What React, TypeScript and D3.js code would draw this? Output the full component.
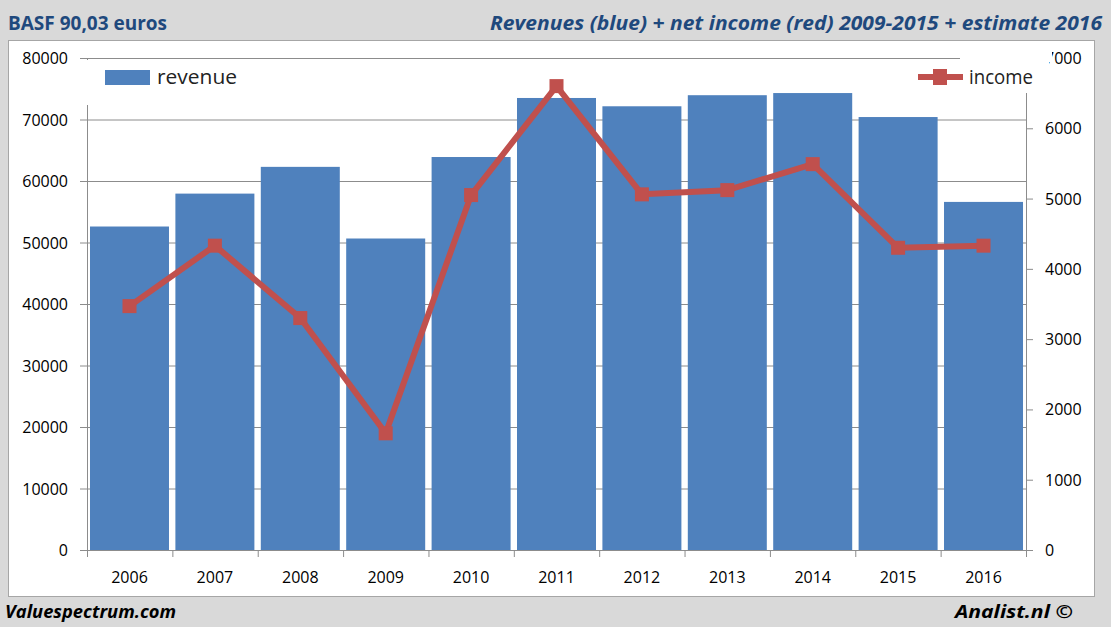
import React from "react";
import * as d3 from "d3";

const years = ["2006","2007","2008","2009","2010","2011","2012","2013","2014","2015","2016"];
const revenue = [52600, 57950, 62300, 50650, 63900, 73500, 72150, 73950, 74300, 70400, 56600];
const income = [3470, 4330, 3300, 1660, 5050, 6600, 5060, 5120, 5490, 4300, 4330];
const leftTicks = [0,10000,20000,30000,40000,50000,60000,70000,80000];
const rightTicks = [0,1000,2000,3000,4000,5000,6000,7000];

const W = 1111, H = 627;
const L = 87, R = 1026, T = 58, B = 550;
const font = "'Open Sans', 'Liberation Sans', sans-serif";

export default function App() {
  const x = d3.scaleBand().domain(years).range([L, R]).paddingInner(0.075).paddingOuter(0.035);
  const yL = d3.scaleLinear().domain([0, 80000]).range([B, T]);
  const yR = d3.scaleLinear().domain([0, 7000]).range([B, T]);
  const cx = (d: string) => (x(d) as number) + x.bandwidth() / 2;
  const line = d3.line<number>().x((_, i) => cx(years[i])).y(v => yR(v));
  const step = (R - L) / years.length;

  return (
    <svg width={W} height={H} style={{ position: "absolute", left: 0, top: 0 }}>
      <rect x={0} y={0} width={W} height={H} fill="#d9d9d9" />
      <rect x={8.5} y={40.5} width={1086} height={556} fill="#fff" stroke="#a6a6a6" />
      <text x={8} y={30} fontFamily={font} fontWeight="bold" fontSize={19} fill="#1f497d">BASF 90,03 euros</text>
      <text x={1102} y={30} textAnchor="end" fontFamily={font} fontWeight="bold" fontStyle="italic" fontSize={19.5} fill="#1f497d" textLength={612} lengthAdjust="spacingAndGlyphs">Revenues (blue) + net income (red) 2009-2015 + estimate 2016</text>

      {leftTicks.map(t => (
        <g key={"g" + t}>
          <line x1={L - 7} x2={R} y1={yL(t) + 0.5} y2={yL(t) + 0.5} stroke="#8c8c8c" />
          <text x={68} y={yL(t) + 6} textAnchor="end" fontFamily={font} fontSize={16} fill="#000">{t}</text>
        </g>
      ))}
      {rightTicks.map(t => (
        <g key={"r" + t}>
          <line x1={R} x2={R + 7} y1={yR(t) + 0.5} y2={yR(t) + 0.5} stroke="#8c8c8c" />
          <text x={1045} y={yR(t) + 6} fontFamily={font} fontSize={16} fill="#000">{t}</text>
        </g>
      ))}

      {years.map((yr, i) => (
        <rect key={yr} x={x(yr)} y={yL(revenue[i])} width={x.bandwidth()} height={B - yL(revenue[i])} fill="#4f81bd" />
      ))}

      <line x1={L + 0.5} x2={L + 0.5} y1={T} y2={B} stroke="#8c8c8c" />
      <line x1={R + 0.5} x2={R + 0.5} y1={T} y2={B} stroke="#8c8c8c" />
      <line x1={L} x2={R} y1={B + 0.5} y2={B + 0.5} stroke="#8c8c8c" />
      {d3.range(years.length + 1).map(i => (
        <line key={"xt" + i} x1={L + i * step + 0.5} x2={L + i * step + 0.5} y1={B} y2={B + 7} stroke="#8c8c8c" />
      ))}
      {years.map(yr => (
        <text key={"xl" + yr} x={cx(yr)} y={583} textAnchor="middle" fontFamily={font} fontSize={16} fill="#000">{yr}</text>
      ))}

      <path d={line(income) as string} fill="none" stroke="#c0504d" strokeWidth={6} strokeLinejoin="round" />
      {income.map((v, i) => (
        <rect key={"m" + i} x={cx(years[i]) - 7} y={yR(v) - 7} width={14} height={14} fill="#c0504d" />
      ))}

      <rect x={86} y={60} width={167} height={45} fill="#fff" />
      <rect x={105} y={70} width={45} height={15} fill="#4f81bd" />
      <text x={157} y={84} fontFamily={font} fontSize={20} fill="#222" textLength={80} lengthAdjust="spacingAndGlyphs">revenue</text>

      <rect x={905} y={60} width={144} height={33} fill="#fff" />
      <rect x={960} y={50} width={92} height={12} fill="#fff" />
      <line x1={918} x2={963} y1={77} y2={77} stroke="#c0504d" strokeWidth={6} />
      <rect x={933} y={69} width={14} height={16} fill="#c0504d" />
      <text x={969} y={84} fontFamily={font} fontSize={20} fill="#222" textLength={64} lengthAdjust="spacingAndGlyphs">income</text>

      <text x={5} y={618} fontFamily={font} fontWeight="bold" fontStyle="italic" fontSize={17} fill="#000" textLength={171} lengthAdjust="spacingAndGlyphs">Valuespectrum.com</text>
      <text x={1073} y={618} textAnchor="end" fontFamily={font} fontWeight="bold" fontStyle="italic" fontSize={18} fill="#000" textLength={118} lengthAdjust="spacingAndGlyphs">Analist.nl ©</text>
    </svg>
  );
}
